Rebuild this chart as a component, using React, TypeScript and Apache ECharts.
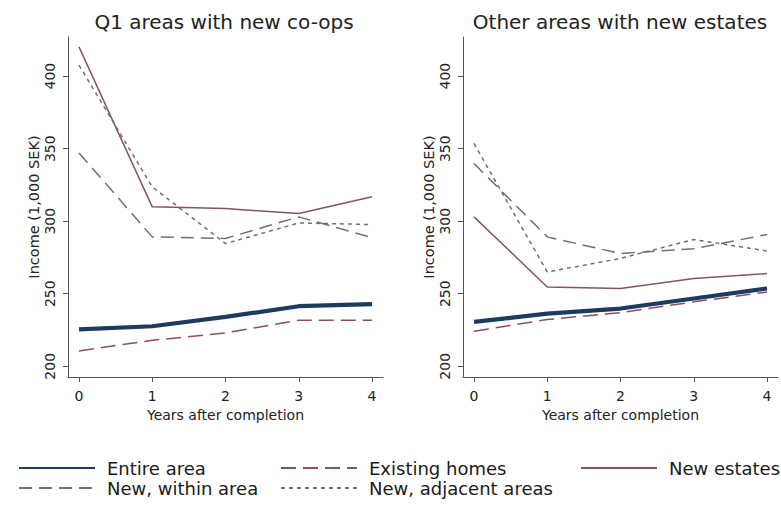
import React, { useEffect, useRef } from "react";
import * as echarts from "echarts";

const years = [0, 1, 2, 3, 4];
const yTicks = [200, 250, 300, 350, 400];
const panelTitles = ["Q1 areas with new co-ops", "Other areas with new estates"];
const seriesNames = ["Entire area", "Existing homes", "New estates", "New, within area", "New, adjacent areas"];
const xAxisName = "Years after completion";
const yAxisName = "Income (1,000 SEK)";

// Q1 areas with new co-ops
const q1Entire = [225.5, 227.6, 234.0, 241.4, 242.8];
const q1Existing = [210.6, 217.9, 223.0, 231.7, 231.7];
const q1NewEstates = [420.2, 309.9, 308.7, 305.3, 316.8];
const q1Within = [347.1, 289.2, 288.1, 303.0, 288.7];
const q1Adjacent = [407.6, 323.7, 284.6, 298.8, 297.7];

// Other areas with new estates
const otEntire = [230.6, 236.3, 239.8, 246.7, 253.6];
const otExisting = [224.1, 232.2, 237.0, 244.4, 251.2];
const otNewEstates = [303.0, 254.7, 253.6, 260.5, 263.9];
const otWithin = [339.8, 289.2, 277.7, 281.1, 290.8];
const otAdjacent = [353.6, 265.0, 274.3, 287.4, 279.5];

const FONT = "DejaVu Sans";

const styles: any[] = [
  { color: "#1d3a5f", width: 4.2, type: "solid" },
  { color: "#8d4e5e", width: 1.5, type: [15, 7] },
  { color: "#83565f", width: 1.5, type: "solid" },
  { color: "#6f7266", width: 1.5, type: [13, 7] },
  { color: "#707070", width: 1.5, type: [4, 4] },
];

export default function App() {
  const ref = useRef<HTMLDivElement>(null);
  useEffect(() => {
    if (!ref.current) return;
    const chart = echarts.init(ref.current, null, { renderer: "svg" });
    const panels = [
      [q1Entire, q1Existing, q1NewEstates, q1Within, q1Adjacent],
      [otEntire, otExisting, otNewEstates, otWithin, otAdjacent],
    ];
    const gridLefts = [68, 463];
    const axisColor = "#555555";
    const xAxes = gridLefts.map((_, i) => ({
      type: "value",
      gridIndex: i,
      min: -0.15,
      max: 4.15,
      name: xAxisName,
      nameLocation: "middle",
      nameGap: 26,
      nameTextStyle: { fontFamily: FONT, fontSize: 14, color: "#222" },
      axisLine: { show: true, onZero: false, lineStyle: { color: axisColor, width: 1 } },
      axisTick: { show: true, length: 5, customValues: years, lineStyle: { color: axisColor } },
      axisLabel: { customValues: years, margin: 12, fontFamily: FONT, fontSize: 14, color: "#222" },
      splitLine: { show: false },
    }));
    const yAxes = gridLefts.map((_, i) => ({
      type: "value",
      gridIndex: i,
      min: 192.6,
      max: 427,
      name: yAxisName,
      nameLocation: "middle",
      nameGap: 27,
      nameTextStyle: { fontFamily: FONT, fontSize: 14.5, color: "#222" },
      axisLine: { show: true, onZero: false, lineStyle: { color: axisColor, width: 1 } },
      axisTick: { show: true, length: 5, customValues: yTicks, lineStyle: { color: axisColor } },
      axisLabel: { customValues: yTicks, rotate: 90, margin: 11, fontFamily: FONT, fontSize: 14, color: "#222" },
      splitLine: { show: false },
    }));
    const series: any[] = [];
    panels.forEach((panel, p) => {
      panel.forEach((vals, k) => {
        series.push({
          type: "line",
          name: seriesNames[k],
          xAxisIndex: p,
          yAxisIndex: p,
          data: years.map((x, j) => [x, vals[j]]),
          symbol: "none",
          showSymbol: false,
          lineStyle: styles[k],
          itemStyle: { color: styles[k].color },
          z: k === 0 ? 5 : 3,
        });
      });
    });
    const legendPos = [
      { left: 18, top: 459 },
      { left: 280, top: 459 },
      { left: 580, top: 459 },
      { left: 18, top: 479 },
      { left: 280, top: 479 },
    ];
    const legends = seriesNames.map((n, i) => ({
      data: [n],
      left: legendPos[i].left,
      top: legendPos[i].top,
      padding: 0,
      itemWidth: 76,
      itemHeight: 18,
      selectedMode: false,
      itemStyle: { opacity: 0 },
      textStyle: { fontFamily: FONT, fontSize: 18, color: "#1a1a1a", lineHeight: 18, padding: [0, 0, 0, 7] },
    }));
    chart.setOption({
      animation: false,
      backgroundColor: "#ffffff",
      grid: gridLefts.map((l) => ({ left: l, top: 37, width: 315, height: 340 })),
      xAxis: xAxes,
      yAxis: yAxes,
      legend: legends,
      graphic: [
        {
          type: "text",
          x: 224,
          y: 22,
          style: { text: panelTitles[0], fontFamily: FONT, fontSize: 20, fill: "#222", textAlign: "center", textVerticalAlign: "middle" },
        },
        {
          type: "text",
          x: 620,
          y: 22,
          style: { text: panelTitles[1], fontFamily: FONT, fontSize: 20, fill: "#222", textAlign: "center", textVerticalAlign: "middle" },
        },
      ],
      series,
    });
    return () => chart.dispose();
  }, []);
  return (
    <div
      ref={ref}
      style={{ position: "absolute", left: 0, top: 0, width: 781, height: 506, background: "#fff" }}
    />
  );
}
